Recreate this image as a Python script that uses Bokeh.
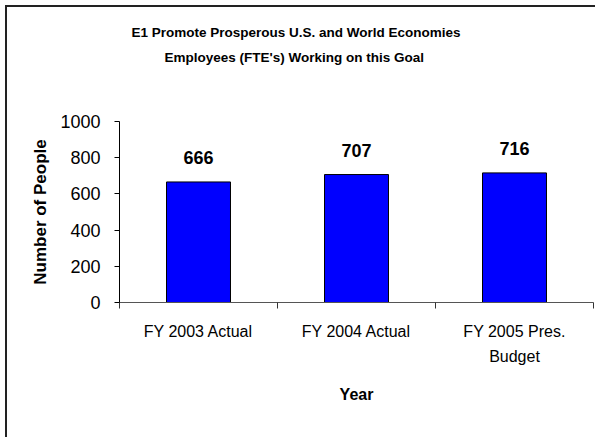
from bokeh.plotting import figure
from bokeh.models import FixedTicker, Label, Range1d, Title
from bokeh.embed import file_html
from bokeh.resources import INLINE

categories = ["FY 2003 Actual", "FY 2004 Actual", "FY 2005 Pres.\nBudget"]
values = [666, 707, 716]
y_ticks = [0, 200, 400, 600, 800, 1000]
title_lines = ["E1 Promote Prosperous U.S. and World Economies",
               "Employees (FTE's) Working on this Goal"]

FONT = "Liberation Sans"

p = figure(width=590, height=432, output_backend="svg", toolbar_location=None,
           x_range=Range1d(0, len(categories)), y_range=Range1d(0, 1000),
           min_border_left=112, min_border_right=4, min_border_top=114,
           min_border_bottom=137)
p.margin = (5, 0, 0, 5)
p.styles = {"border-left": "2px solid #222222", "border-top": "2px solid #222222"}
p.outline_line_color = None
p.grid.grid_line_color = None
p.background_fill_color = "white"
p.border_fill_color = "white"

xs = [i + 0.5 for i in range(len(categories))]
p.vbar(x=xs, top=values, width=0.405, fill_color="#0000FF", line_color="black", line_width=1)

for x, v in zip(xs, values):
    p.add_layout(Label(x=x, y=v, text=str(v), text_align="center", text_baseline="bottom",
                       y_offset=18, text_font=FONT, text_font_style="bold",
                       text_font_size="18px", text_color="black"))

# x axis
xa = p.xaxis[0]
xa.ticker = FixedTicker(ticks=xs, minor_ticks=list(range(len(categories) + 1)))
xa.major_label_overrides = {x: c for x, c in zip(xs, categories)}
xa.major_tick_out = 0
xa.major_tick_in = 0
xa.minor_tick_out = 6
xa.minor_tick_in = 0
xa.axis_line_color = "#555555"
xa.minor_tick_line_color = "#333333"
xa.major_label_standoff = 14
xa.major_label_text_font = FONT
xa.major_label_text_font_size = "16px"
xa.major_label_text_line_height = 1.5
xa.major_label_text_color = "black"
xa.axis_label = "Year"
xa.axis_label_text_font = FONT
xa.axis_label_text_font_style = "bold"
xa.axis_label_text_font_size = "16px"
xa.axis_label_text_color = "black"
xa.axis_label_standoff = 18

# y axis
ya = p.yaxis[0]
ya.ticker = FixedTicker(ticks=y_ticks)
ya.major_tick_out = 5
ya.major_tick_in = 0
ya.minor_tick_line_color = None
ya.axis_line_color = "black"
ya.major_tick_line_color = "black"
ya.major_label_standoff = 14
ya.major_label_text_font = FONT
ya.major_label_text_font_size = "18px"
ya.major_label_text_color = "black"
ya.axis_label = "Number of People"
ya.axis_label_text_font = FONT
ya.axis_label_text_font_style = "bold"
ya.axis_label_text_font_size = "17px"
ya.axis_label_text_color = "black"
ya.axis_label_standoff = 7

# titles: first added sits closest to the frame
p.add_layout(Title(text=" ", standoff=34, text_font_size="15px"), "above")
p.add_layout(Title(text=title_lines[1], align="left", offset=45, standoff=8,
                   text_font=FONT, text_font_style="bold", text_font_size="13.5px",
                   text_color="black"), "above")
p.add_layout(Title(text=title_lines[0], align="left", offset=12, standoff=8,
                   text_font=FONT, text_font_style="bold", text_font_size="13.5px",
                   text_color="black"), "above")

open("out.html", "w").write(file_html(p, INLINE))
